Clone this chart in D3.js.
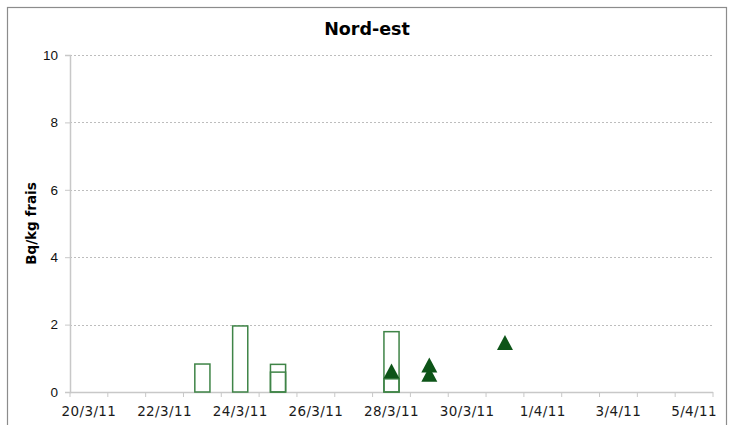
<!DOCTYPE html>
<html>
<head>
<meta charset="utf-8">
<script src="https://cdn.jsdelivr.net/npm/d3@7"></script>
<style>
  body { margin: 0; background: #fff; }
</style>
</head>
<body>
<div id="chart"></div>
<script>
// one category per day, labels every other day
let days = ["20/3/11","21/3/11","22/3/11","23/3/11","24/3/11","25/3/11","26/3/11","27/3/11",
            "28/3/11","29/3/11","30/3/11","31/3/11","1/4/11","2/4/11","3/4/11","4/4/11","5/4/11"];
let tickLabels = ["20/3/11","22/3/11","24/3/11","26/3/11","28/3/11","30/3/11","1/4/11","3/4/11","5/4/11"];
let yTicks = [0, 2, 4, 6, 8, 10];

// bars (two overlapping series, outlined)
let barsHigh = [["23/3/11", 0.83], ["24/3/11", 1.96], ["25/3/11", 0.82], ["28/3/11", 1.79]];
let barsLow  = [["25/3/11", 0.59], ["28/3/11", 0.39]];

// triangle markers
let points = [["28/3/11", 0.62], ["29/3/11", 0.80], ["29/3/11", 0.53], ["31/3/11", 1.47]];

let W = 734, H = 425;
let margin = {top: 55, right: 21, bottom: 33, left: 70},
    width = W - margin.left - margin.right,
    height = H - margin.top - margin.bottom;

let svg = d3.select("#chart")
  .append("svg")
    .attr("width", W)
    .attr("height", H);

// outer frame
svg.append("rect")
  .attr("x", 7.5).attr("y", 7.5)
  .attr("width", 719).attr("height", 430)
  .attr("fill", "none")
  .attr("stroke", "#8c8c8c")
  .attr("stroke-width", 1.2);

svg.append("text")
  .attr("x", 367).attr("y", 35)
  .attr("text-anchor", "middle")
  .style("font-family", "DejaVu Sans")
  .style("font-weight", "bold")
  .style("font-size", "17.5px")
  .text("Nord-est");

let g = svg.append("g")
  .attr("transform", "translate(" + margin.left + "," + margin.top + ")");

let x = d3.scaleBand()
  .domain(days)
  .range([0, width]);

let y = d3.scaleLinear()
  .domain([0, 10])
  .range([height, 0]);

// gridlines
g.append("g")
  .selectAll("line")
  .data(yTicks.filter(function(d) { return d > 0; }))
  .enter().append("line")
    .attr("x1", 0).attr("x2", width)
    .attr("y1", function(d) { return Math.round(y(d)) + 0.5; })
    .attr("y2", function(d) { return Math.round(y(d)) + 0.5; })
    .attr("stroke", "#bdbdbd")
    .attr("stroke-dasharray", "2,2");

// y axis
let yAxis = g.append("g")
  .call(d3.axisLeft(y).tickValues(yTicks).tickSize(5).tickPadding(7));
yAxis.select(".domain").attr("stroke", "#c8c8c8").attr("stroke-width", 1.5);
yAxis.selectAll(".tick line").attr("stroke", "#c8c8c8");
yAxis.selectAll("text")
  .style("font-family", "Liberation Sans")
  .style("font-size", "13.5px")
  .attr("fill", "#111");

// x axis: ticks at day boundaries, labels centred in band
let xAxis = g.append("g")
  .attr("transform", "translate(0," + height + ")");
xAxis.append("line")
  .attr("x1", 0).attr("x2", width)
  .attr("y1", 0.5).attr("y2", 0.5)
  .attr("stroke", "#c8c8c8")
  .attr("stroke-width", 1.5);
xAxis.selectAll(".tk")
  .data(days.concat(["end"]))
  .enter().append("line")
    .attr("class", "tk")
    .attr("x1", function(d, i) { return i < days.length ? x(d) : width; })
    .attr("x2", function(d, i) { return i < days.length ? x(d) : width; })
    .attr("y1", 0).attr("y2", 5)
    .attr("stroke", "#c8c8c8");
xAxis.selectAll(".lbl")
  .data(tickLabels)
  .enter().append("text")
    .attr("class", "lbl")
    .attr("x", function(d) { return x(d) + x.bandwidth() / 2; })
    .attr("y", 24)
    .attr("text-anchor", "middle")
    .style("font-family", "DejaVu Sans")
    .style("font-size", "13.5px")
    .style("letter-spacing", "0.4px")
    .attr("fill", "#1a1a1a")
    .text(function(d) { return d; });

// axis title
svg.append("text")
  .attr("transform", "translate(36," + (margin.top + height / 2) + ") rotate(-90)")
  .attr("text-anchor", "middle")
  .style("font-family", "DejaVu Sans")
  .style("font-weight", "bold")
  .style("font-size", "13.5px")
  .text("Bq/kg frais");

// bars
let bw = x.bandwidth() * 0.4;
let bars = g.append("g");
[barsHigh, barsLow].forEach(function(series) {
  bars.selectAll(null)
    .data(series)
    .enter().append("rect")
      .attr("x", function(d) { return x(d[0]) + (x.bandwidth() - bw) / 2; })
      .attr("y", function(d) { return y(d[1]); })
      .attr("width", bw)
      .attr("height", function(d) { return height - y(d[1]); })
      .attr("fill", "none")
      .attr("stroke", "#3f8447")
      .attr("stroke-width", 1.5);
});

// triangles, centred on their box like the original markers
let tri = "M0,-7.5L8,7.5L-8,7.5Z";
g.append("g")
  .selectAll("path")
  .data(points)
  .enter().append("path")
    .attr("d", tri)
    .attr("transform", function(d) {
      return "translate(" + (x(d[0]) + x.bandwidth() / 2) + "," + y(d[1]) + ")";
    })
    .attr("fill", "#0d5418");
</script>
</body>
</html>
